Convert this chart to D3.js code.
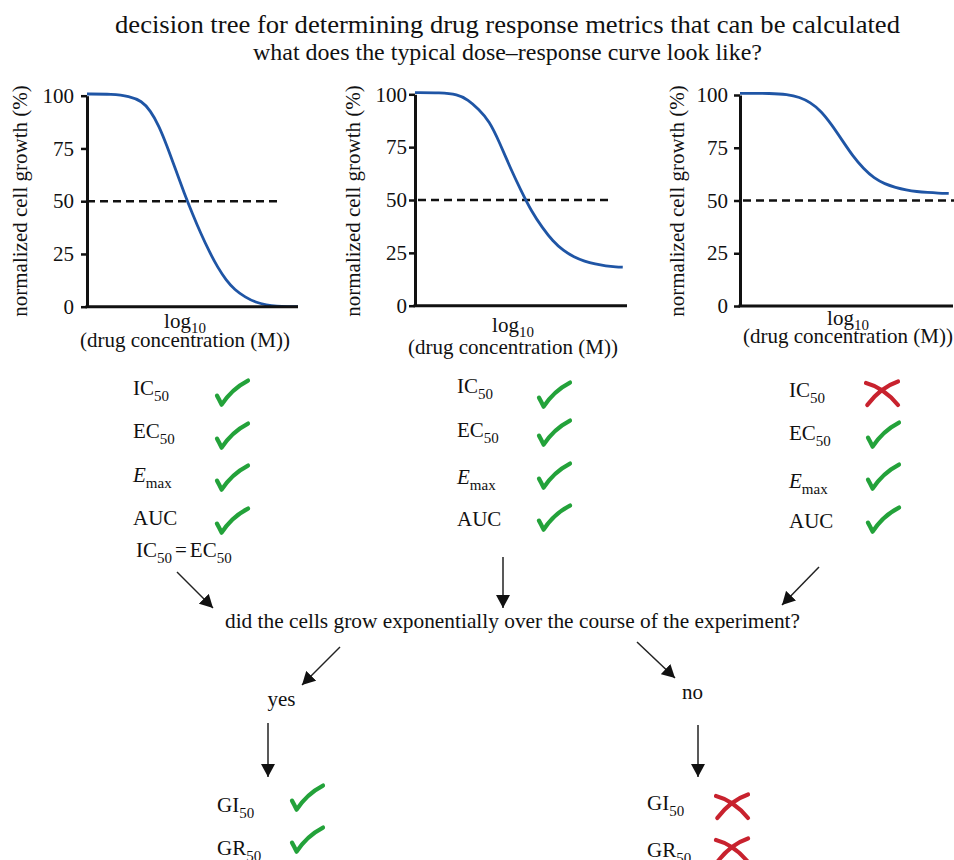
<!DOCTYPE html>
<html><head><meta charset="utf-8">
<script src="https://cdn.jsdelivr.net/npm/d3@7"></script>
<style>
body{margin:0;background:#fff}
text{font-family:"Liberation Serif","Times New Roman",serif;fill:#111}
</style>
</head><body>
<svg id="chart" width="954" height="860"></svg>
<script>
// ---------------- data ----------------
const titleText = "decision tree for determining drug response metrics that can be calculated";
const subtitleText = "what does the typical dose–response curve look like?";
const questionText = "did the cells grow exponentially over the course of the experiment?";
const yTicks = [0, 25, 50, 75, 100];
const yLabel = "normalized cell growth (%)";
const xLabelMain = "log";
const xLabelSub = "10";
const xLabelLine2 = "(drug concentration (M))";
const threshold = 50;

// curves: x = position along the (unticked) log-concentration axis, 0–100
const curveX1 = [0, 12, 20, 26, 30, 34, 38, 42, 46, 50, 54, 58, 62, 66, 70, 75, 80, 85, 90, 95, 100];
const curveY1 = [100.8, 100.8, 99.8, 97.5, 93, 86, 76, 65, 54, 44, 34.5, 26, 18.5, 12.5, 8, 4.5, 2, 0.8, 0.2, 0, 0];
const curveX2 = [0, 12, 20, 25, 30, 35, 40, 45, 50, 55, 60, 65, 70, 75, 80, 85, 90, 95, 98];
const curveY2 = [100.8, 100.8, 100, 97.5, 93, 87.5, 77, 65, 54.5, 44.5, 37, 30.5, 26, 23, 21, 19.7, 18.8, 18.3, 18.2];
const curveX3 = [0, 15, 22, 28, 33, 38, 43, 48, 53, 58, 63, 68, 73, 78, 83, 88, 93, 98];
const curveY3 = [100.8, 100.8, 100.3, 99, 96.5, 92.5, 86, 78.5, 71, 65, 60.5, 57.8, 56.2, 55, 54.2, 53.8, 53.5, 53.4];

// metrics and whether they can be calculated (1 = check, 0 = cross)
const metricBase = ["IC", "EC", "E", "AUC"];
const metricSub = ["50", "50", "max", ""];
const metricItalic = [false, false, true, false];
const statusA = [1, 1, 1, 1];
const statusB = [1, 1, 1, 1];
const statusC = [0, 1, 1, 1];
const growthBase = ["GI", "GR"];
const growthSub = ["50", "50"];
const statusYes = [1, 1];
const statusNo = [0, 0];
const yesText = "yes";
const noText = "no";

// ---------------- drawing ----------------
const svg = d3.select("#chart");
const FS = 21, SUB = 15;

svg.append("text").attr("x", 507.5).attr("y", 33).attr("text-anchor", "middle")
  .attr("font-size", 25.5).attr("textLength", 785).attr("lengthAdjust", "spacingAndGlyphs").text(titleText);
svg.append("text").attr("x", 507.5).attr("y", 60).attr("text-anchor", "middle")
  .attr("font-size", 22.5).attr("textLength", 509).attr("lengthAdjust", "spacingAndGlyphs").text(subtitleText);

const panels = [
  {xs: curveX1, ys: curveY1, ax: 87, xe: 298, y100: 95.7, y0: 306.7, dash: [87, 280], pad: 7, ylabX: 27, logX: 185, logY: 328, concY: 347},
  {xs: curveX2, ys: curveY2, ax: 415, xe: 627, y100: 94.3, y0: 305.7, dash: [418, 612], pad: 2, ylabX: 360, logX: 513, logY: 332, concY: 354},
  {xs: curveX3, ys: curveY3, ax: 740, xe: 953, y100: 95, y0: 306, dash: [743, 954], pad: 6, ylabX: 684, logX: 848, logY: 325, concY: 343}
];

panels.forEach(p => {
  const x = d3.scaleLinear().domain([0, 100]).range([p.ax, p.xe]);
  const y = d3.scaleLinear().domain([0, 100]).range([p.y0, p.y100]);
  const g = svg.append("g");

  // threshold dashed line
  g.append("line").attr("x1", p.dash[0]).attr("x2", p.dash[1])
    .attr("y1", y(threshold)).attr("y2", y(threshold))
    .attr("stroke", "#111").attr("stroke-width", 2.6).attr("stroke-dasharray", "8,5");

  // curve
  const pts = p.xs.map((v, i) => [v, p.ys[i]]);
  g.append("path").datum(pts)
    .attr("d", d3.line().x(d => x(d[0])).y(d => y(d[1])).curve(d3.curveBasis))
    .attr("fill", "none").attr("stroke", "#1f55a5").attr("stroke-width", 2.8);

  // y axis
  const ya = g.append("g").attr("transform", `translate(${p.ax},0)`)
    .call(d3.axisLeft(y).tickValues(yTicks).tickSize(6).tickSizeOuter(0).tickPadding(p.pad));
  ya.select(".domain").attr("stroke", "#111").attr("stroke-width", 3);
  ya.selectAll(".tick line").attr("stroke", "#111").attr("stroke-width", 2.5);
  ya.selectAll(".tick text").attr("font-size", FS).attr("font-family", "Liberation Serif").attr("fill", "#111");

  // x axis (no ticks)
  const xa = g.append("g").attr("transform", `translate(0,${p.y0})`)
    .call(d3.axisBottom(x).tickValues([]).tickSizeOuter(0));
  xa.select(".domain").attr("stroke", "#111").attr("stroke-width", 3)
    .attr("d", `M${p.ax - 1.5},0H${p.xe}`);

  // labels
  g.append("text").attr("transform", `translate(${p.ylabX},201) rotate(-90)`)
    .attr("text-anchor", "middle").attr("font-size", FS).text(yLabel);
  const lt = g.append("text").attr("x", p.logX).attr("y", p.logY).attr("text-anchor", "middle").attr("font-size", FS);
  lt.append("tspan").text(xLabelMain);
  lt.append("tspan").attr("font-size", SUB).attr("dy", 5).text(xLabelSub);
  g.append("text").attr("x", p.logX).attr("y", p.concY).attr("text-anchor", "middle").attr("font-size", FS).text(xLabelLine2);
});

// marks
function check(x, y, w, h) {
  const p = d3.path();
  p.moveTo(x + 0.06 * w, y + 0.6 * h);
  p.quadraticCurveTo(x + 0.14 * w, y + 0.78 * h, x + 0.2 * w, y + 0.95 * h);
  p.quadraticCurveTo(x + 0.5 * w, y + 0.35 * h, x + w, y + 0.02 * h);
  return p.toString();
}
function cross(x, y, w, h) {
  const p = d3.path();
  p.moveTo(x, y + 0.12 * h);
  p.quadraticCurveTo(x + 0.55 * w, y + 0.3 * h, x + w, y + h);
  p.moveTo(x + 0.04 * w, y + h);
  p.quadraticCurveTo(x + 0.45 * w, y + 0.3 * h, x + w, y + 0.06 * h);
  return p.toString();
}
function mark(ok, x, y) {
  svg.append("path").attr("d", ok ? check(x, y, 33, 26) : cross(x, y, 32, 25))
    .attr("fill", "none").attr("stroke", ok ? "#23a23a" : "#c8222e")
    .attr("stroke-width", 4.2).attr("stroke-linecap", "round").attr("stroke-linejoin", "round");
}
function label(x, y, base, sub, italic) {
  const t = svg.append("text").attr("x", x).attr("y", y).attr("font-size", FS);
  t.append("tspan").attr("font-style", italic ? "italic" : null).text(base);
  if (sub) t.append("tspan").attr("font-size", SUB).attr("dy", 6).text(sub);
  return t;
}

const columns = [
  {status: statusA, x: 133, base: [395, 438, 482, 525], mx: 215, mt: [380, 423, 465, 508]},
  {status: statusB, x: 457, base: [393, 437, 484, 526], mx: 537, mt: [382, 420, 463, 505]},
  {status: statusC, x: 789, base: [397, 440, 488, 528], mx: 866, mt: [380, 422, 464, 507]}
];
columns.forEach(c => {
  metricBase.forEach((b, i) => {
    label(c.x, c.base[i], b, metricSub[i], metricItalic[i]);
    mark(c.status[i], c.mx, c.mt[i]);
  });
});

// IC50 = EC50
{
  const t = svg.append("text").attr("x", 136).attr("y", 557).attr("font-size", FS);
  t.append("tspan").text(metricBase[0]);
  t.append("tspan").attr("font-size", SUB).attr("dy", 6).text(metricSub[0]);
  t.append("tspan").attr("dy", -6).attr("dx", 3).text("=");
  t.append("tspan").attr("dx", 3).text(metricBase[1]);
  t.append("tspan").attr("font-size", SUB).attr("dy", 6).text(metricSub[1]);
}

const growthCols = [
  {status: statusYes, x: 217, base: [812, 855], mx: 290, mt: [785, 827]},
  {status: statusNo, x: 647, base: [810, 857], mx: 716, mt: [793, 837]}
];
growthCols.forEach(c => {
  growthBase.forEach((b, i) => {
    label(c.x, c.base[i], b, growthSub[i], false);
    mark(c.status[i], c.mx, c.mt[i]);
  });
});

svg.append("text").attr("x", 512.5).attr("y", 628).attr("text-anchor", "middle").attr("font-size", FS)
  .attr("textLength", 575).attr("lengthAdjust", "spacingAndGlyphs").text(questionText);
svg.append("text").attr("x", 281.5).attr("y", 706).attr("text-anchor", "middle").attr("font-size", FS).text(yesText);
svg.append("text").attr("x", 692.5).attr("y", 699).attr("text-anchor", "middle").attr("font-size", FS).text(noText);

// arrows
const defs = svg.append("defs");
defs.append("marker").attr("id", "ah").attr("markerUnits", "userSpaceOnUse")
  .attr("viewBox", "0 0 13 14").attr("refX", 13).attr("refY", 7)
  .attr("markerWidth", 13).attr("markerHeight", 14).attr("orient", "auto")
  .append("path").attr("d", "M0,0L13,7L0,14Z").attr("fill", "#111");
const arrows = [[177, 572, 213, 608], [503, 557, 503, 608], [819, 567, 782, 605],
  [340, 647, 302, 685], [637, 642, 675, 678], [268, 723, 268, 777], [698, 725, 698, 777]];
arrows.forEach(a => {
  svg.append("line").attr("x1", a[0]).attr("y1", a[1]).attr("x2", a[2]).attr("y2", a[3])
    .attr("stroke", "#222").attr("stroke-width", 1.5).attr("marker-end", "url(#ah)");
});
</script>
</body></html>
